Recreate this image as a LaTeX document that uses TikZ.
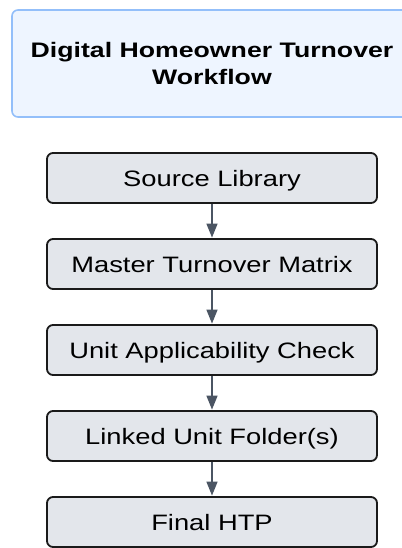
\documentclass[tikz,border=0pt]{standalone}
\usepackage{fontspec}
\setmainfont{Liberation Sans}[FakeStretch=1.225]
\newfontfamily\headfont{Liberation Sans}[FakeStretch=1.27]
\usetikzlibrary{arrows.meta}
\definecolor{titlefill}{HTML}{EEF5FF}
\definecolor{titleline}{HTML}{93BFFA}
\definecolor{stepfill}{HTML}{E3E6EB}
\definecolor{stepline}{HTML}{1A1A1A}
\definecolor{flowline}{HTML}{4B5563}
\begin{document}
\begin{tikzpicture}[x=1pt,y=1pt,
  titlebox/.style={draw=titleline, fill=titlefill, line width=1.6pt,
    rounded corners=6pt, minimum width=400pt, minimum height=107pt,
    align=center, font=\headfont\fontsize{21}{27}\selectfont\bfseries, inner sep=0pt},
  stepbox/.style={draw=stepline, fill=stepfill, line width=1.8pt,
    rounded corners=6pt, minimum width=330pt, minimum height=50pt,
    font=\fontsize{22.3}{26}\selectfont, inner sep=0pt,
    text height=16pt, text depth=0pt},
  flow/.style={draw=flowline, line width=1.5pt,
    -{Triangle[length=14pt,width=11pt]}, shorten >=0.5pt}]
  \useasboundingbox (0,0) rectangle (401,-548);
  \node[titlebox] (title) at (212,-63.5) {Digital Homeowner Turnover\\Workflow};
  \node[stepbox] (src)    at (212,-178) {Source Library};
  \node[stepbox] (master) at (212,-264) {Master Turnover Matrix};
  \node[stepbox] (unit)   at (212,-350) {Unit Applicability Check};
  \node[stepbox] (linked) at (212,-436) {Linked Unit Folder(s)};
  \node[stepbox] (final)  at (212,-522) {Final HTP};
  \draw[flow] (src) -- (master);
  \draw[flow] (master) -- (unit);
  \draw[flow] (unit) -- (linked);
  \draw[flow] (linked) -- (final);
\end{tikzpicture}
\end{document}
